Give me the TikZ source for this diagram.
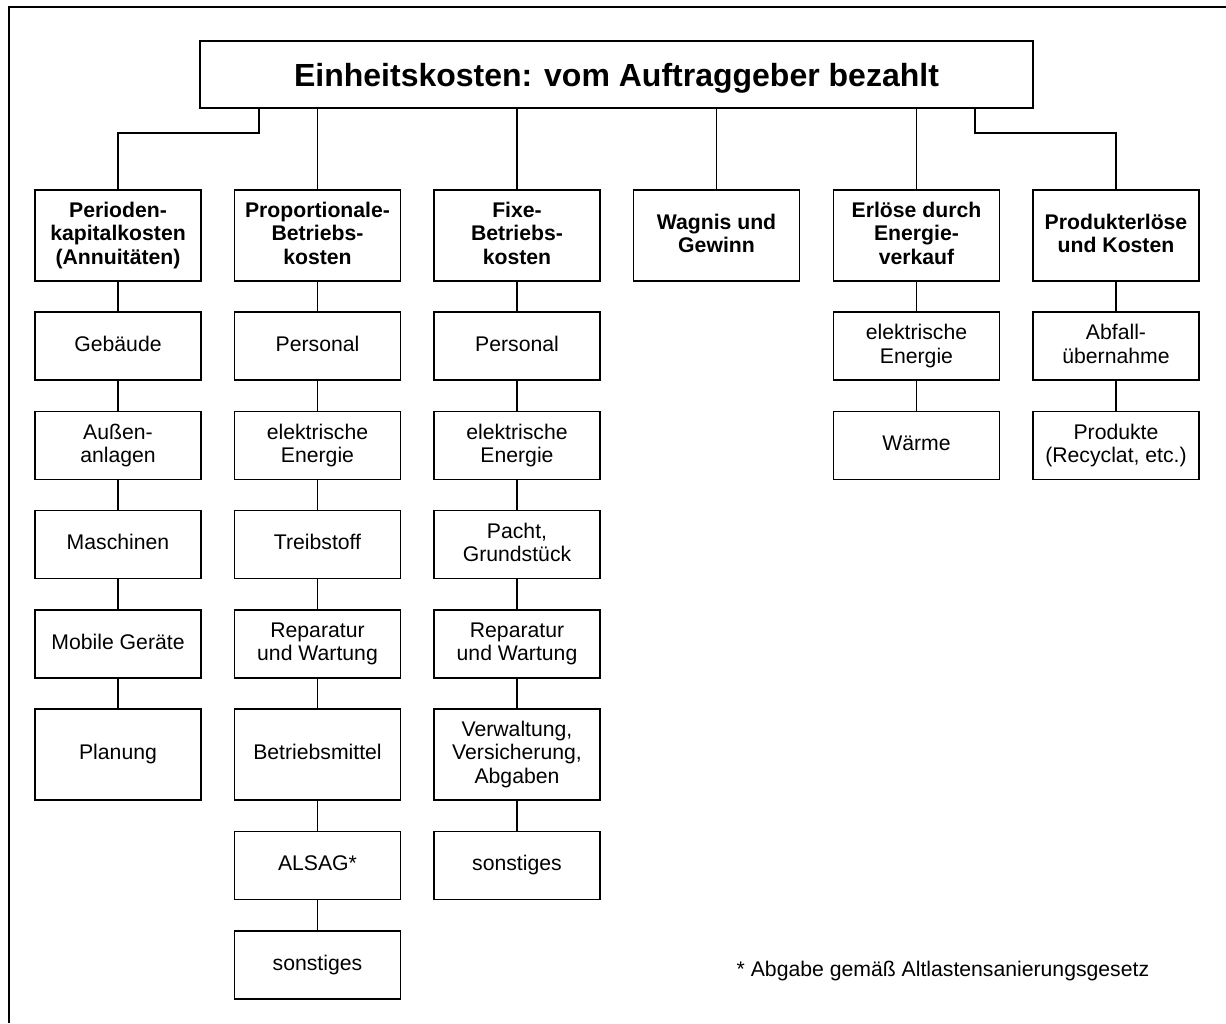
\documentclass[tikz,border=0pt]{standalone}
\usepackage{fontspec}
\setmainfont{Liberation Sans}
\begin{document}
\begin{tikzpicture}[x=1pt,y=-1pt,
  cbox/.style={draw, line width=1.4pt, minimum width=166pt, inner sep=0pt, align=center,
    font=\fontsize{21.2}{23.5}\selectfont,
    execute at begin node={\rule{0pt}{15pt}},
    execute at end node={\rule[-4.5pt]{0pt}{4.5pt}}},
  hbox/.style={cbox, minimum height=91pt, font=\fontsize{21.2}{23.5}\selectfont\bfseries},
  tall/.style={minimum height=91pt},
  short/.style={minimum height=68pt},
  conn/.style={line width=1.4pt}]
\useasboundingbox (0,0) rectangle (1226,1023);
% outer frame (only top and left visible)
\draw[line width=2.2pt] (9,1023) -- (9,7) -- (1226,7);
% title
\node[draw, line width=2.2pt, minimum width=833pt, minimum height=67pt, inner sep=0pt,
  font=\fontsize{32}{36}\selectfont\bfseries, text height=23pt, text depth=0pt]
  (title) at (616.5,74.5) {Einheitskosten: vom Auftraggeber bezahlt};
% level 1 headings
\node[hbox] (h1) at (118,235.5) {Perioden-\\kapitalkosten\\(Annuitäten)};
\node[hbox] (h2) at (317.5,235.5) {Proportionale-\\Betriebs-\\kosten};
\node[hbox] (h3) at (517,235.5) {Fixe-\\Betriebs-\\kosten};
\node[hbox] (h4) at (716.5,235.5) {Wagnis und\\Gewinn};
\node[hbox] (h5) at (916.5,235.5) {Erlöse durch\\Energie-\\verkauf};
\node[hbox] (h6) at (1116,235.5) {Produkterlöse\\und Kosten};
% column 1
\node[cbox,short] (a1) at (118,346) {Gebäude};
\node[cbox,short] (a2) at (118,445.5) {Außen-\\anlagen};
\node[cbox,short] (a3) at (118,544.5) {Maschinen};
\node[cbox,short] (a4) at (118,644) {Mobile Geräte};
\node[cbox,tall] (a5) at (118,754.5) {Planung};
% column 2
\node[cbox,short] (b1) at (317.5,346) {Personal};
\node[cbox,short] (b2) at (317.5,445.5) {elektrische\\Energie};
\node[cbox,short] (b3) at (317.5,544.5) {Treibstoff};
\node[cbox,short] (b4) at (317.5,644) {Reparatur\\und Wartung};
\node[cbox,tall] (b5) at (317.5,754.5) {Betriebsmittel};
\node[cbox,short] (b6) at (317.5,865.5) {ALSAG*};
\node[cbox,short] (b7) at (317.5,965) {sonstiges};
% column 3
\node[cbox,short] (c1) at (517,346) {Personal};
\node[cbox,short] (c2) at (517,445.5) {elektrische\\Energie};
\node[cbox,short] (c3) at (517,544.5) {Pacht,\\Grundstück};
\node[cbox,short] (c4) at (517,644) {Reparatur\\und Wartung};
\node[cbox,tall] (c5) at (517,754.5) {Verwaltung,\\Versicherung,\\Abgaben};
\node[cbox,short] (c6) at (517,865.5) {sonstiges};
% column 5
\node[cbox,short] (e1) at (916.5,346) {elektrische\\Energie};
\node[cbox,short] (e2) at (916.5,445.5) {Wärme};
% column 6
\node[cbox,short] (f1) at (1116,346) {Abfall-\\übernahme};
\node[cbox,short] (f2) at (1116,445.5) {Produkte\\(Recyclat, etc.)};
% footnote
\node[anchor=base west, inner sep=0pt, font=\fontsize{21.2}{23.5}\selectfont]
  (fn) at (736.5,976) {* Abgabe gemäß Altlastensanierungsgesetz};
% connectors from title
\coordinate (j1) at (259,133);
\coordinate (j6) at (975,133);
\draw[conn] (j1 |- title.south) -- (j1) -| (h1.north);
\draw[conn] (j6 |- title.south) -- (j6) -| (h6.north);
\draw[conn] (h2.north |- title.south) -- (h2.north);
\draw[conn] (h3.north |- title.south) -- (h3.north);
\draw[conn] (h4.north |- title.south) -- (h4.north);
\draw[conn] (h5.north |- title.south) -- (h5.north);
% column chains
\draw[conn] (h1.south) -- (a1.north) (a1.south) -- (a2.north) (a2.south) -- (a3.north)
  (a3.south) -- (a4.north) (a4.south) -- (a5.north);
\draw[conn] (h2.south) -- (b1.north) (b1.south) -- (b2.north) (b2.south) -- (b3.north)
  (b3.south) -- (b4.north) (b4.south) -- (b5.north) (b5.south) -- (b6.north) (b6.south) -- (b7.north);
\draw[conn] (h3.south) -- (c1.north) (c1.south) -- (c2.north) (c2.south) -- (c3.north)
  (c3.south) -- (c4.north) (c4.south) -- (c5.north) (c5.south) -- (c6.north);
\draw[conn] (h5.south) -- (e1.north) (e1.south) -- (e2.north);
\draw[conn] (h6.south) -- (f1.north) (f1.south) -- (f2.north);
\end{tikzpicture}
\end{document}
